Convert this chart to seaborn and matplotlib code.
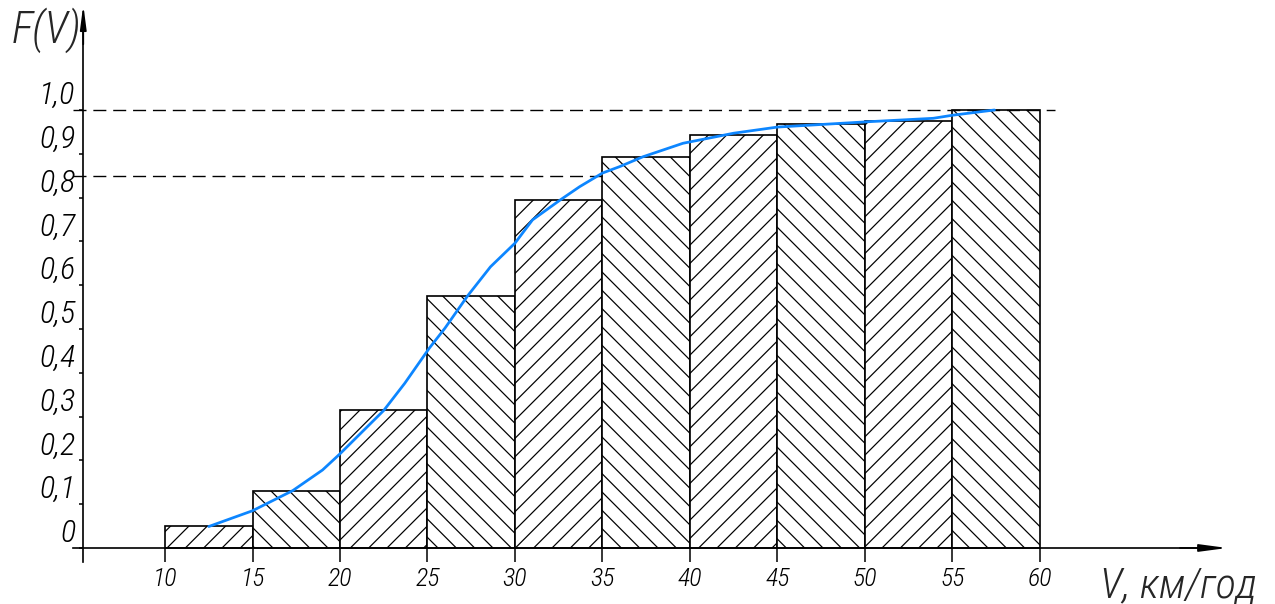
import matplotlib
matplotlib.use("Agg")
import matplotlib.pyplot as plt
from matplotlib import font_manager
import seaborn as sns

# cumulative frequency per speed interval
bin_mid = [12.5, 17.5, 22.5, 27.5, 32.5, 37.5, 42.5, 47.5, 52.5, 57.5]
cum_freq = [0.05, 0.13, 0.315, 0.575, 0.795, 0.893, 0.943, 0.968, 0.975, 1.0]

# smooth blue curve
curve_v = [12.5, 15.0, 17.3, 19.0, 20.0, 22.5, 23.7, 25.1, 26.0, 27.3, 28.6,
           30.0, 31.0, 32.6, 33.7, 35.0, 36.0, 37.3, 39.6, 42.5, 45.0, 50.1,
           53.9, 55.0, 57.4]
curve_f = [0.049, 0.085, 0.131, 0.178, 0.215, 0.314, 0.376, 0.456, 0.502,
           0.576, 0.642, 0.696, 0.749, 0.795, 0.825, 0.856, 0.871, 0.893,
           0.924, 0.947, 0.961, 0.973, 0.981, 0.988, 1.0]

x_ticks = [10, 15, 20, 25, 30, 35, 40, 45, 50, 55, 60]
y_ticks = [0, 0.1, 0.2, 0.3, 0.4, 0.5, 0.6, 0.7, 0.8, 0.9, 1.0]
y_labels = ['0', '0,1', '0,2', '0,3', '0,4', '0,5', '0,6', '0,7', '0,8', '0,9', '1,0']
level_a = 1.0
level_b = 0.85

font = 'DejaVu Sans'
for cand in ['Roboto Condensed', 'Liberation Sans Narrow', 'DejaVu Sans Condensed', 'Roboto']:
    try:
        font_manager.findfont(cand, fallback_to_default=False)
        font = cand
        break
    except Exception:
        pass

sns.set_style("white")
plt.rcParams['font.family'] = [font, 'DejaVu Sans']
plt.rcParams['font.style'] = 'italic'
plt.rcParams['font.weight'] = 'light'
plt.rcParams['font.stretch'] = 'condensed'
plt.rcParams['hatch.linewidth'] = 0.8
plt.rcParams['lines.scale_dashes'] = False

DPI = 110
fig = plt.figure(figsize=(1275 / DPI, 604 / DPI), dpi=DPI)
ax = fig.add_axes([0, 0, 1, 1])
ax.set_facecolor('white')

sns.barplot(x=bin_mid, y=cum_freq, native_scale=True, width=1, color='white',
            saturation=1, edgecolor='black', linewidth=1.1, errorbar=None, ax=ax)
for i, p in enumerate(ax.patches):
    p.set_hatch('//' if i % 2 == 0 else '\\\\')
    p.set_zorder(2)

sns.lineplot(x=curve_v, y=curve_f, color='#0d86ff', lw=1.8, ax=ax, zorder=4)

ax.hlines(level_a, 4.74, 60.86, colors='black', lw=0.9, linestyles=(0, (8.5, 4.5)), zorder=3)
ax.hlines(level_b, 4.74, 35, colors='black', lw=0.9, linestyles=(0, (8.5, 4.5)), zorder=3)

ax.set_xlim(0.571, 73.43)
ax.set_ylim(-0.1279, 1.2511)

for s in ['top', 'right']:
    ax.spines[s].set_visible(False)
ax.spines['bottom'].set_position(('data', 0))
ax.spines['left'].set_position(('data', 5.33))
ax.spines['bottom'].set_bounds(4.74, 69.5)
ax.spines['left'].set_bounds(-0.032, 1.2)
for s in ['bottom', 'left']:
    ax.spines[s].set_color('black')
    ax.spines[s].set_linewidth(1.1)

ax.annotate('', xy=(70.7, 0), xytext=(68, 0),
            arrowprops=dict(arrowstyle='-|>,head_length=1.5,head_width=0.2',
                            lw=1.1, color='black', shrinkA=0, shrinkB=0))
ax.annotate('', xy=(5.33, 1.24), xytext=(5.33, 1.15),
            arrowprops=dict(arrowstyle='-|>,head_length=1.3,head_width=0.17',
                            lw=1.1, color='black', shrinkA=0, shrinkB=0))

ax.set_xticks(x_ticks)
ax.set_xticklabels([str(v) for v in x_ticks], fontsize=17)
ax.set_yticks(y_ticks)
ax.set_yticklabels(y_labels, fontsize=21)
for lab in ax.get_yticklabels():
    lab.set_va('bottom')
ax.tick_params(axis='x', direction='out', length=9.2, width=1.0, pad=3, colors='black', bottom=True)
ax.tick_params(axis='y', direction='out', length=2.8, width=1.0, pad=2.5, colors='black', left=True)
ax.set_xlabel('')
ax.set_ylabel('')
ax.grid(False)

fig.text(12 / 1275, 1 - 43 / 604, 'F(V)', fontsize=29, va='baseline', ha='left')
fig.text(1100 / 1275, 7 / 604, 'V, км/год', fontsize=28, va='baseline', ha='left')

fig.savefig('out.png', dpi=DPI, facecolor='white')
